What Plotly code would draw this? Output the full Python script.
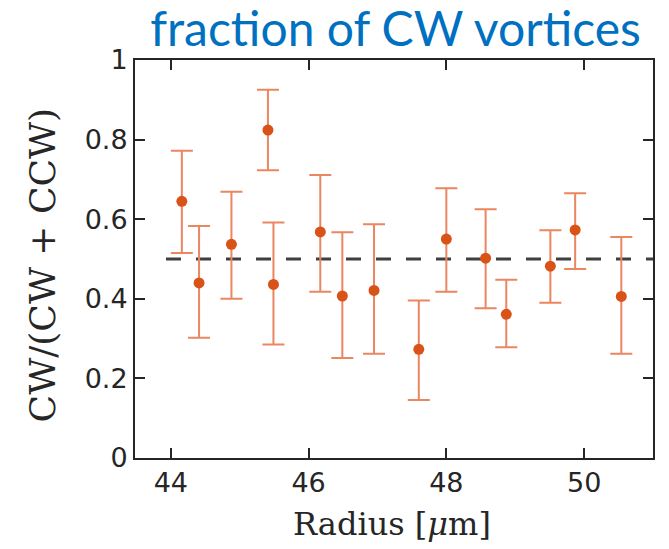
import plotly.graph_objects as go

# Data
radius = [44.16, 44.41, 44.88, 45.41, 45.49, 46.17, 46.49, 46.95,
          47.60, 48.00, 48.57, 48.87, 49.51, 49.87, 50.54]
fraction = [0.645, 0.440, 0.537, 0.824, 0.436, 0.568, 0.407, 0.421,
            0.273, 0.550, 0.502, 0.361, 0.482, 0.573, 0.406]
upper = [0.772, 0.583, 0.669, 0.925, 0.592, 0.711, 0.567, 0.587,
         0.396, 0.678, 0.625, 0.448, 0.572, 0.665, 0.555]
lower = [0.515, 0.302, 0.400, 0.723, 0.285, 0.418, 0.251, 0.262,
         0.146, 0.418, 0.376, 0.278, 0.390, 0.475, 0.262]
ref_x = [43.93, 51.0]
ref_y = [0.5, 0.5]
x_ticks = [44, 46, 48, 50]
y_ticks = [0, 0.2, 0.4, 0.6, 0.8, 1]
y_tick_text = ["0", "0.2", "0.4", "0.6", "0.8", "1"]

err_plus = [u - f for u, f in zip(upper, fraction)]
err_minus = [f - l for f, l in zip(fraction, lower)]

W, H = 669, 549

fig = go.Figure()
fig.add_trace(go.Scatter(
    x=ref_x, y=ref_y, mode="lines",
    line=dict(color="#3f3f3f", width=3, dash="15px,15px"),
    hoverinfo="skip", showlegend=False,
))
fig.add_trace(go.Scatter(
    x=radius, y=fraction, mode="markers",
    marker=dict(color="#D95319", size=11),
    error_y=dict(type="data", symmetric=False, array=err_plus, arrayminus=err_minus,
                 color="#EA8660", thickness=2, width=11),
    showlegend=False,
))

axis_common = dict(
    showline=True, linecolor="#262626", linewidth=2, mirror="allticks",
    ticks="inside", ticklen=10, tickwidth=2, tickcolor="#262626",
    showgrid=False, zeroline=False, automargin=False,
    tickfont=dict(family="DejaVu Sans", size=27, color="#262626"),
)

fig.update_layout(
    width=W, height=H,
    paper_bgcolor="white", plot_bgcolor="white",
    margin=dict(l=135, r=16, t=60, b=91),
    title=dict(text="fraction of CW vortices", x=395.5 / W, xanchor="center",
               y=1 - 29 / H, yanchor="middle", yref="container",
               font=dict(family="Lato", size=48, color="#0070C0")),
    xaxis=dict(range=[43.48, 51.0], tickvals=x_ticks, ticktext=[str(t) for t in x_ticks],
               **axis_common),
    yaxis=dict(range=[0, 1], tickvals=y_ticks, ticktext=y_tick_text,
               **axis_common),
)

fig.add_annotation(text="Radius [<i>μ</i>m]", xref="paper", yref="paper",
                   x=0.496, y=-0.167, xanchor="center", yanchor="middle",
                   showarrow=False,
                   font=dict(family="DejaVu Serif", size=32, color="#262626"))
fig.add_annotation(text="CW/(CW + CCW)", xref="paper", yref="paper",
                   x=-0.1795, y=0.484, xanchor="center", yanchor="middle",
                   textangle=-90, showarrow=False,
                   font=dict(family="DejaVu Serif", size=36, color="#262626"))

fig.write_html("out.html", config={"displayModeBar": False},
               post_script="document.body.style.margin='0px';")
